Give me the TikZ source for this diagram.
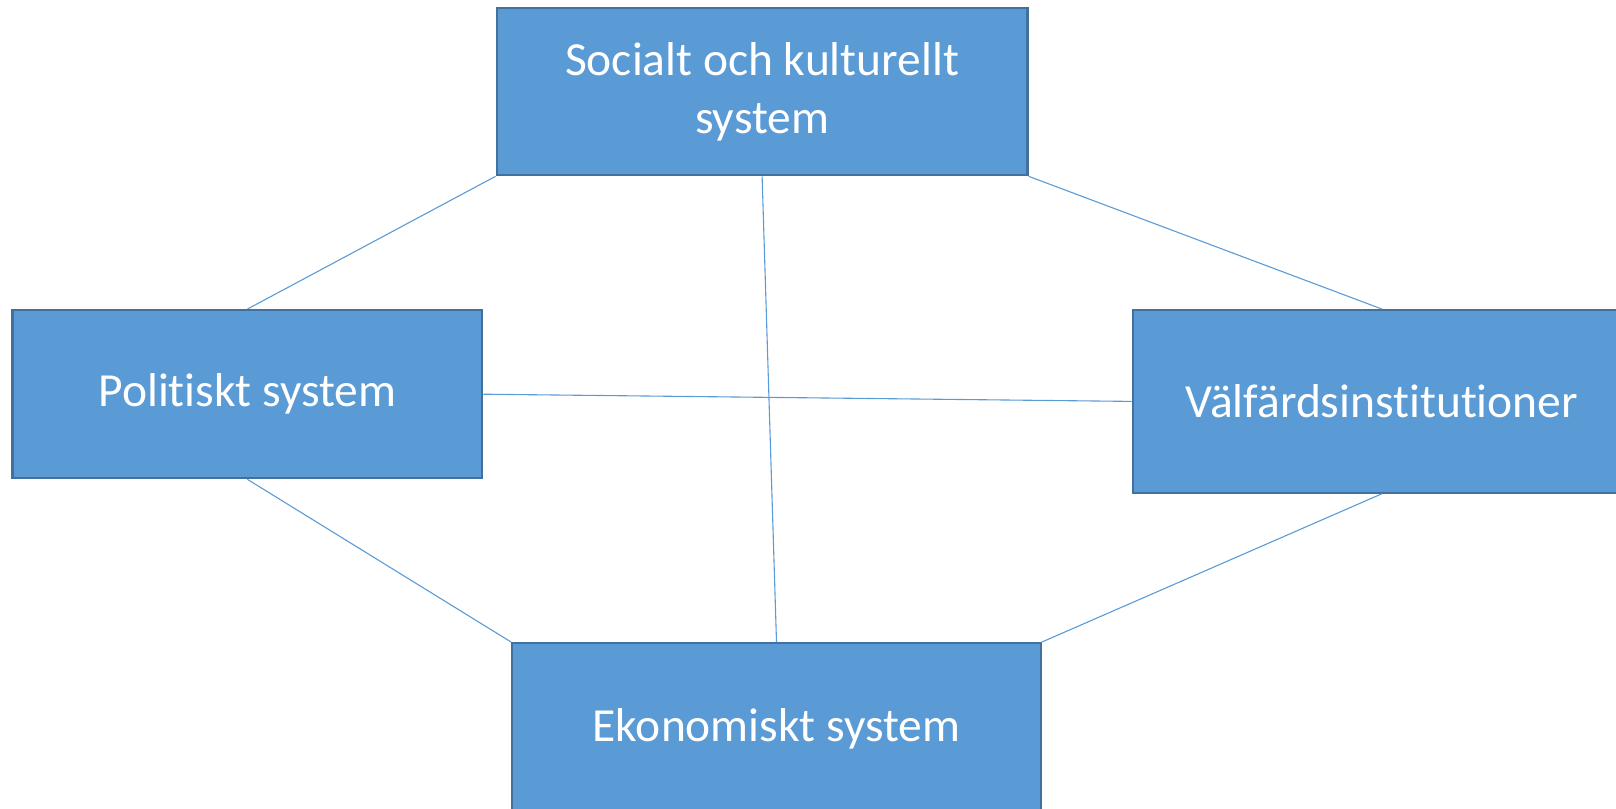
\documentclass[tikz,border=0pt]{standalone}
\usepackage{fontspec}
\setmainfont{Carlito}[Ligatures={NoCommon}]
\definecolor{boxfill}{HTML}{5B9BD5}
\definecolor{boxline}{HTML}{41719C}
\definecolor{linkcol}{HTML}{5B9BD5}
\tikzset{
  sysbox/.style={draw=boxline, line width=2.2pt, fill=boxfill, rectangle, text=white,
    align=center, inner sep=0pt, font=\fontsize{47.5}{58}\selectfont},
  link/.style={draw=linkcol, line width=1.1pt}
}
\begin{document}
\begin{tikzpicture}[x=1pt,y=-1pt]
\useasboundingbox (0,0) rectangle (1616,808);
\node[sysbox, minimum width=530.8pt, minimum height=167pt] (soc) at (762.1,91.7) {\raisebox{-3pt}{\parbox{500pt}{\centering Socialt och kulturellt\\system}}};
\node[sysbox, minimum width=469.9pt, minimum height=168pt] (pol) at (247.35,394.2) {\raisebox{-2pt}{Politiskt system}};
\node[sysbox, minimum width=498.8pt, minimum height=182.4pt] (val) at (1382,401.4) {Välfärdsinstitutioner};
\node[sysbox, minimum width=528.7pt, minimum height=171pt] (eko) at (776.5,728.6) {\raisebox{-2pt}{Ekonomiskt system}};
\draw[link] (soc.south west) -- (pol.north);
\draw[link] (soc.south) -- (eko.north);
\draw[link] (soc.south east) -- (val.north);
\draw[link] (pol.east) -- (val.west);
\draw[link] (pol.south) -- (eko.north west);
\draw[link] (val.south) -- (eko.north east);
\end{tikzpicture}
\end{document}
